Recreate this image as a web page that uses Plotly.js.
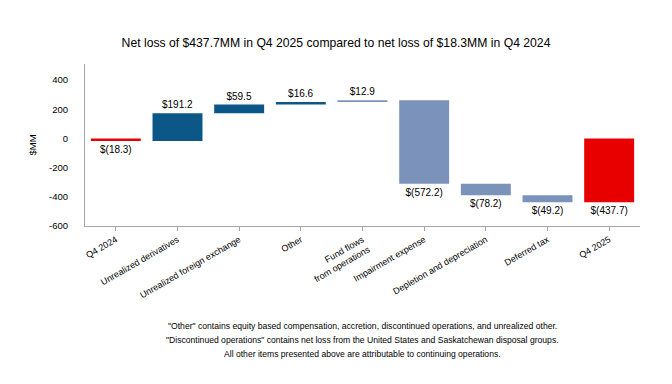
<!DOCTYPE html>
<html>
<head>
<meta charset="utf-8">
<script src="https://cdn.plot.ly/plotly-3.0.1.min.js"></script>
<style>html,body{margin:0;padding:0;background:#fff;}#chart{width:672px;height:384px;}</style>
</head>
<body>
<div id="chart"></div>
<script>
const categories = ["Q4 2024", "Unrealized derivatives", "Unrealized foreign exchange", "Other", "Fund flows<br>from operations", "Impairment expense", "Depletion and depreciation", "Deferred tax", "Q4 2025"];
const values = [-18.3, 191.2, 59.5, 16.6, 12.9, -572.2, -78.2, -49.2, -437.7];
const kinds = ["total", "relative", "relative", "relative", "relative", "relative", "relative", "relative", "total"];
const labels = ["$(18.3)", "$191.2", "$59.5", "$16.6", "$12.9", "$(572.2)", "$(78.2)", "$(49.2)", "$(437.7)"];
const groups = ["net", "up", "up", "up", "ops", "ops", "ops", "ops", "net"];
const yTicks = [-600, -400, -200, 0, 200, 400];
const titleText = "Net loss of $437.7MM in Q4 2025 compared to net loss of $18.3MM in Q4 2024";
const notes = [
  "\"Other\" contains equity based compensation, accretion, discontinued operations, and unrealized other.",
  "\"Discontinued operations\" contains net loss from the United States and Saskatchewan disposal groups.",
  "All other items presented above are attributable to continuing operations."
];

const palette = {net: "#E80000", up: "#0B5788", ops: "#7B93BA"};
const FONT = "'Liberation Sans', Arial, sans-serif";

// compute bases for waterfall
const bases = [];
let run = 0;
values.forEach((v, i) => {
  if (kinds[i] === "total") { bases.push(0); run = v; }
  else { bases.push(run); run += v; }
});

const trace = {
  type: "bar",
  x: categories,
  y: values,
  base: bases,
  marker: {color: groups.map(g => palette[g])},
  text: labels,
  textposition: "outside",
  cliponaxis: false,
  textfont: {family: FONT, size: 10, color: "#000"},
  hoverinfo: "skip"
};

const layout = {
  width: 672, height: 384,
  margin: {l: 85, r: 32, t: 64, b: 158},
  paper_bgcolor: "#fff", plot_bgcolor: "#fff",
  font: {family: FONT, size: 9, color: "#000"},
  showlegend: false,
  bargap: 0.19,
  title: {text: titleText, x: 0.5, xanchor: "center", y: 0.89, yanchor: "middle", font: {family: FONT, size: 12.2, color: "#000"}},
  xaxis: {
    type: "category",
    showline: true, linecolor: "#A6A6A6", linewidth: 1,
    ticks: "outside", ticklen: 4, tickcolor: "#A6A6A6",
    tickangle: -30,
    tickfont: {family: FONT, size: 9, color: "#000"},
    showgrid: false, zeroline: false, fixedrange: true
  },
  yaxis: {
    range: [-600, 510],
    tickvals: yTicks,
    ticktext: yTicks.map(String),
    showline: true, linecolor: "#A6A6A6", linewidth: 1,
    ticks: "", ticklabelstandoff: 14,
    tickfont: {family: FONT, size: 9.5, color: "#000"},
    showgrid: false, zeroline: false,
    title: {text: "$MM", standoff: 10, font: {family: FONT, size: 9.5, color: "#000"}}
  },
  annotations: notes.map((t, i) => ({
    text: t,
    xref: "paper", yref: "y", x: 0.5, y: -600, xanchor: "center", yanchor: "middle",
    yshift: -100 - 14 * i,
    showarrow: false, align: "center",
    font: {family: FONT, size: 8.6, color: "#000"}
  }))
};

Plotly.newPlot("chart", [trace], layout, {displayModeBar: false, staticPlot: true});
</script>
</body>
</html>
